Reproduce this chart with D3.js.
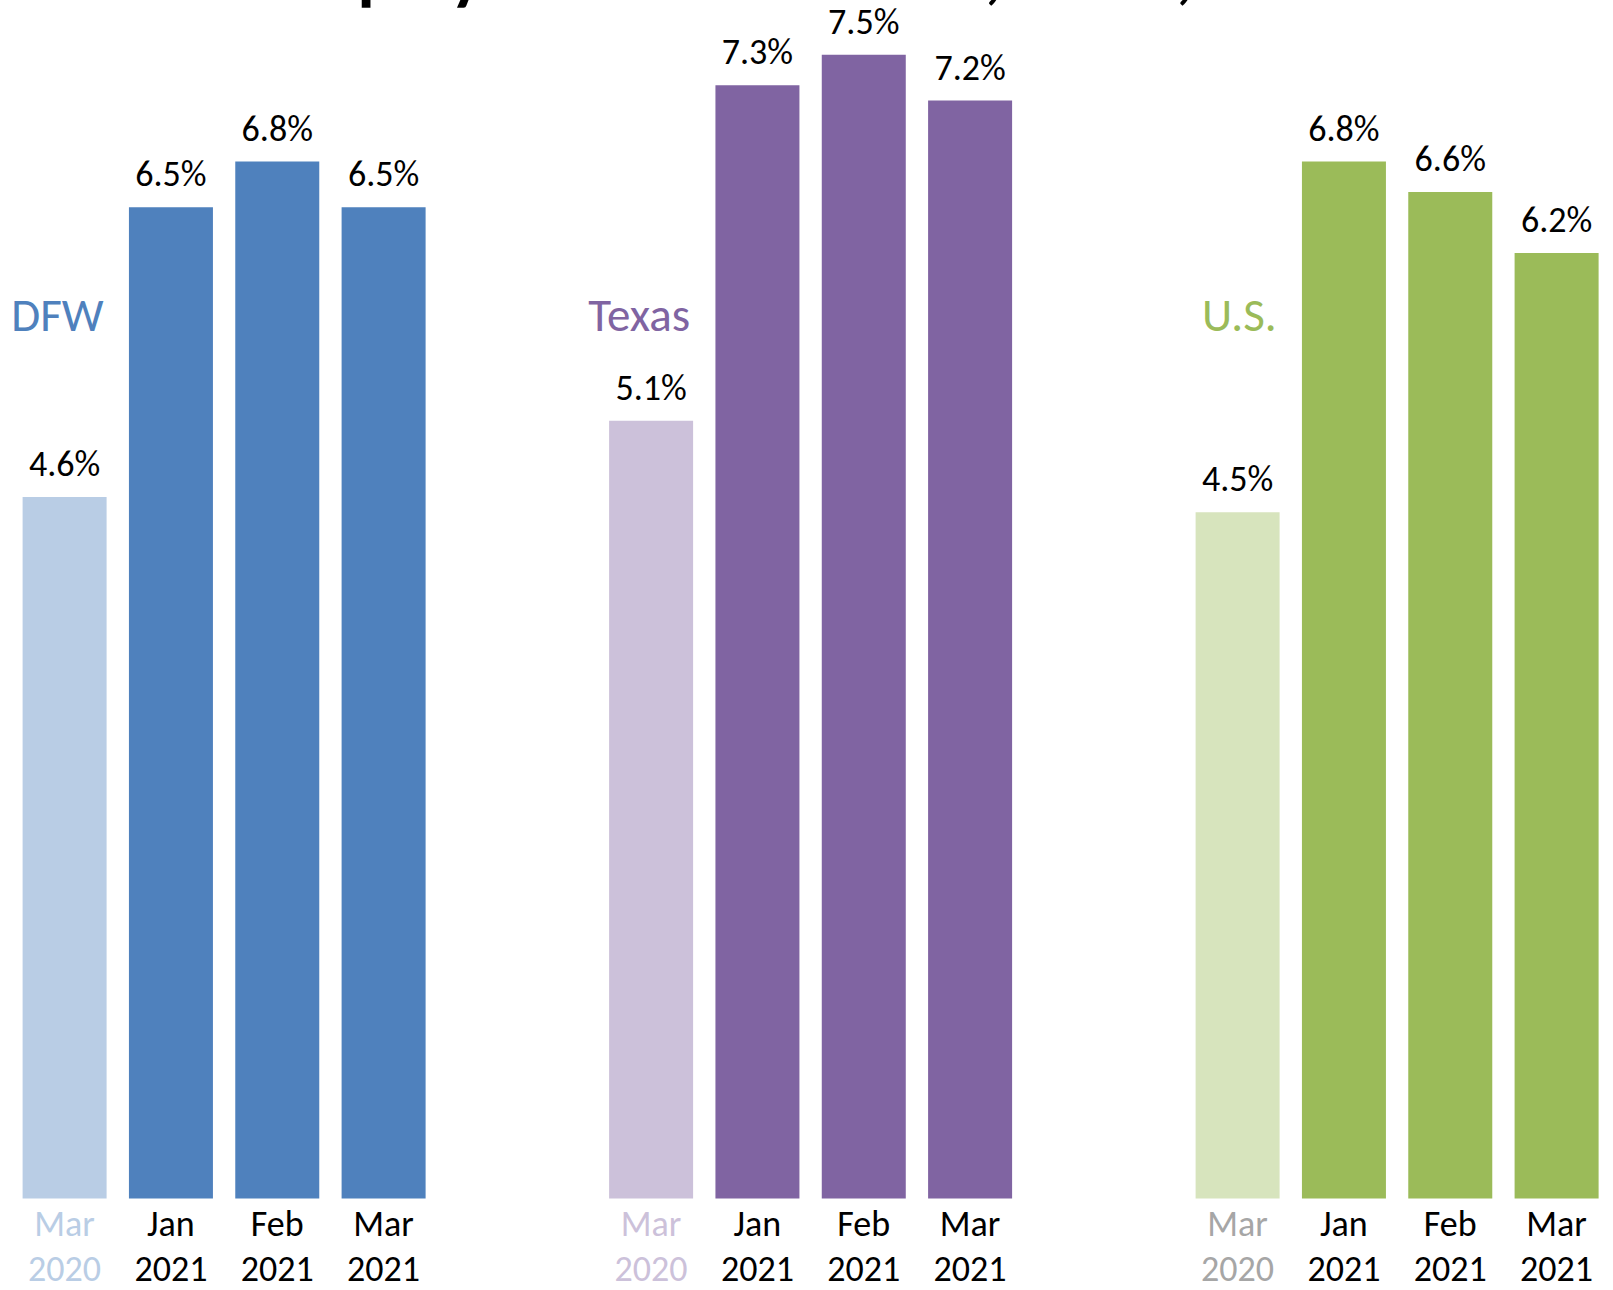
<!DOCTYPE html>
<html>
<head>
<meta charset="utf-8">
<script src="https://cdn.jsdelivr.net/npm/d3@7"></script>
<style>
  body { margin: 0; background: #fff; overflow: hidden; }
  text { font-family: Calibri, Carlito, Lato, sans-serif; }
</style>
</head>
<body>
<div id="chart"></div>
<script>
// data
var title = "Unemployment Rates: DFW, Texas, and U.S.";
var regions = ["DFW", "Texas", "U.S."];
var months = ["Mar 2020", "Jan 2021", "Feb 2021", "Mar 2021"];
var dfwRates = [4.6, 6.5, 6.8, 6.5];
var texasRates = [5.1, 7.3, 7.5, 7.2];
var usRates = [4.5, 6.8, 6.6, 6.2];

// colours: dark for 2021, light for the Mar 2020 bar
var darkColors = ["#4f81bd", "#8064a2", "#9bbb59"];
var lightColors = ["#b9cde5", "#ccc1da", "#d7e4bd"];
var oldLabelColors = ["#b9cde5", "#ccc1da", "#a6a6a6"];

var width = 1613, height = 1290;
var baseY = 1198.5;

var svg = d3.select("#chart")
  .append("svg")
  .attr("width", width)
  .attr("height", height);

var rows = [dfwRates, texasRates, usRates];
var data = [];
regions.forEach(function(r, i) {
  months.forEach(function(m, j) {
    data.push({ region: r, ri: i, month: m, mi: j, value: rows[i][j] });
  });
});

// scales
var outer = d3.scaleBand()
  .domain(regions)
  .range([22.6, 22.6 + 3 * 586.5]);

var inner = d3.scaleBand()
  .domain(months)
  .range([0, 403])
  .paddingInner(0.21)
  .paddingOuter(0);

var y = d3.scaleLinear()
  .domain([0, baseY / 152.5])
  .range([baseY, 0]);

// title (mostly cut off at the top, only descenders show)
var t = svg.append("text")
  .attr("x", 0)
  .attr("y", -2)
  .style("font-size", "60px")
  .style("font-weight", "bold")
  .attr("fill", "#000")
  .text(title);
var pIdx = title.indexOf("p");
var cIdx = title.lastIndexOf(",");
var a = t.node().getStartPositionOfChar(pIdx).x;
var b = t.node().getStartPositionOfChar(cIdx).x;
var fs = 60 * (1176 - 357.6) / (b - a);
t.style("font-size", fs + "px");
a = t.node().getStartPositionOfChar(pIdx).x;
t.attr("x", 357.6 - a).attr("y", -0.2 * fs + 10);

// bars
svg.selectAll("rect.bar")
  .data(data)
  .enter()
  .append("rect")
    .attr("class", "bar")
    .attr("x", function(d) { return outer(d.region) + inner(d.month); })
    .attr("y", function(d) { return y(d.value); })
    .attr("width", inner.bandwidth())
    .attr("height", function(d) { return baseY - y(d.value); })
    .attr("fill", function(d) { return d.mi === 0 ? lightColors[d.ri] : darkColors[d.ri]; });

// value labels
svg.selectAll("text.val")
  .data(data)
  .enter()
  .append("text")
    .attr("class", "val")
    .attr("x", function(d) { return outer(d.region) + inner(d.month) + inner.bandwidth() / 2; })
    .attr("y", function(d) { return y(d.value) - 21; })
    .attr("text-anchor", "middle")
    .style("font-size", "36px")
    .attr("fill", "#000")
    .text(function(d) { return d.value.toFixed(1) + "%"; });

// region names
svg.selectAll("text.region")
  .data(regions)
  .enter()
  .append("text")
    .attr("class", "region")
    .attr("x", function(d) { return outer(d) + inner(months[0]) + inner.bandwidth() - 3; })
    .attr("y", 331)
    .attr("text-anchor", "end")
    .style("font-size", "47px")
    .attr("fill", function(d, i) { return darkColors[i]; })
    .text(function(d) { return d; });

// x axis per region, two-line month labels
regions.forEach(function(r, i) {
  var g = svg.append("g")
    .attr("transform", "translate(" + outer(r) + "," + baseY + ")")
    .call(d3.axisBottom(inner).tickSize(0));
  g.select(".domain").remove();
  g.selectAll(".tick text")
    .style("font-size", "36px")
    .attr("font-family", null)
    .attr("fill", function(d, j) { return j === 0 ? oldLabelColors[i] : "#000"; })
    .attr("y", 0)
    .attr("dy", null)
    .text(null)
    .each(function(d) {
      var parts = d.split(" ");
      var el = d3.select(this);
      el.append("tspan").attr("x", 0).attr("y", 37.5).text(parts[0]);
      el.append("tspan").attr("x", 0).attr("y", 82).text(parts[1]);
    });
});
</script>
</body>
</html>
